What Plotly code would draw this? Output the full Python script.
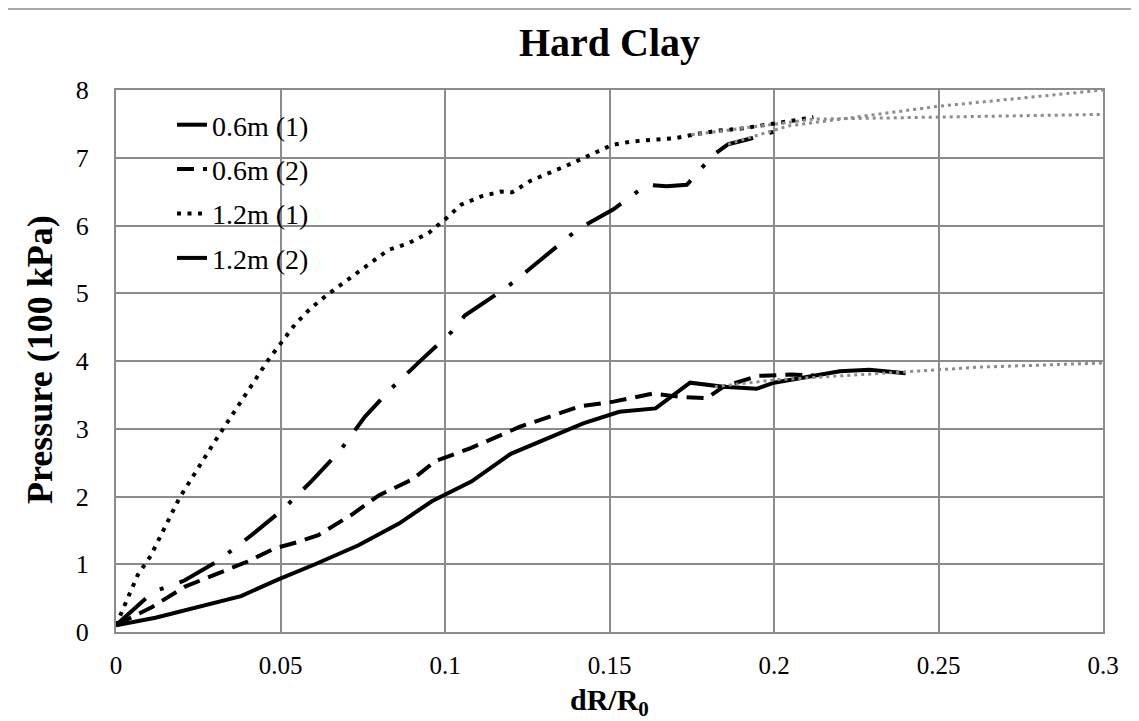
import plotly.graph_objects as go

# ---- tick definitions ----
x_ticks = [0, 0.05, 0.1, 0.15, 0.2, 0.25, 0.3]
x_tick_labels = ["0", "0.05", "0.1", "0.15", "0.2", "0.25", "0.3"]
y_ticks = [0, 1, 2, 3, 4, 5, 6, 7, 8]
y_tick_labels = ["0", "1", "2", "3", "4", "5", "6", "7", "8"]

series_names = ["0.6m (1)", "0.6m (2)", "1.2m (1)", "1.2m (2)"]

# ---- 0.6m (1) : solid ----
s06_1_x = [0, 0.012, 0.038, 0.049, 0.0605, 0.0737, 0.086, 0.096, 0.108, 0.12,
           0.142, 0.153, 0.164, 0.1745, 0.1846, 0.1947, 0.2, 0.21, 0.22, 0.229, 0.24]
s06_1_y = [0.1, 0.21, 0.53, 0.77, 1.0, 1.28, 1.6, 1.93, 2.22, 2.63,
           3.08, 3.25, 3.3, 3.68, 3.62, 3.59, 3.68, 3.77, 3.85, 3.87, 3.82]

# ---- 0.6m (2) : dashed ----
s06_2_x = [0, 0.011, 0.021, 0.03, 0.04, 0.048, 0.0554, 0.0615, 0.0716, 0.08, 0.09,
           0.097, 0.1076, 0.1228, 0.141, 0.1512, 0.1633, 0.1714, 0.1795, 0.1846,
           0.195, 0.205, 0.212]
s06_2_y = [0.1, 0.37, 0.67, 0.84, 1.04, 1.23, 1.33, 1.43, 1.73, 2.02, 2.25,
           2.52, 2.71, 3.03, 3.33, 3.4, 3.52, 3.47, 3.45, 3.62,
           3.78, 3.8, 3.79]

# ---- 1.2m (1) : dotted ----
s12_1_x = [0, 0.0066, 0.0105, 0.0193, 0.03, 0.039, 0.0462, 0.0544, 0.059, 0.064,
           0.0693, 0.0774, 0.0828, 0.089, 0.095, 0.1, 0.105, 0.111, 0.117, 0.1204,
           0.126, 0.1387, 0.1508, 0.1567, 0.163, 0.17, 0.1765, 0.183, 0.19, 0.196,
           0.2027, 0.206, 0.212]
s12_1_y = [0.1, 0.84, 1.12, 1.98, 2.81, 3.48, 4.01, 4.54, 4.77, 4.97,
           5.16, 5.45, 5.64, 5.74, 5.89, 6.09, 6.31, 6.43, 6.5, 6.49,
           6.66, 6.92, 7.19, 7.24, 7.26, 7.29, 7.35, 7.4, 7.43, 7.47,
           7.52, 7.55, 7.6]

# ---- 1.2m (2) : dash-dot ----
s12_2_x = [0, 0.0112, 0.0208, 0.026, 0.031, 0.0412, 0.0505, 0.0595, 0.068, 0.0757,
           0.0838, 0.0929, 0.102, 0.106, 0.111, 0.117, 0.121, 0.1309, 0.1405, 0.1512,
           0.1613, 0.1674, 0.1735, 0.1815, 0.1861, 0.1927, 0.2044]
s12_2_y = [0.1, 0.59, 0.76, 0.9, 1.05, 1.43, 1.8, 2.23, 2.67, 3.18,
           3.6, 4.02, 4.43, 4.67, 4.83, 5.03, 5.17, 5.56, 5.95, 6.24,
           6.6, 6.58, 6.6, 7.04, 7.2, 7.28, 7.45]

# ---- grey dotted extrapolations ----
ext_12_2_x = [0.186, 0.2044, 0.25, 0.3]
ext_12_2_y = [7.2, 7.47, 7.76, 8.0]
ext_12_1_x = [0.175, 0.212, 0.2626, 0.3]
ext_12_1_y = [7.34, 7.57, 7.61, 7.64]
ext_06_x = [0.182, 0.2, 0.24, 0.2626, 0.3]
ext_06_y = [3.62, 3.72, 3.84, 3.91, 3.97]

FONT = "Liberation Serif, Times New Roman, serif"
GRID = "#8c8c8c"

fig = go.Figure()

styles = [
    dict(color="black", width=4, dash="solid"),
    dict(color="black", width=4, dash="17px,9px"),
    dict(color="black", width=4, dash="4px,6.5px"),
    dict(color="black", width=4, dash="40px,17px,4px,17px"),
]
data = [(s06_1_x, s06_1_y), (s06_2_x, s06_2_y), (s12_1_x, s12_1_y), (s12_2_x, s12_2_y)]
for i, ((xs, ys), name, st) in enumerate(zip(data, series_names, styles)):
    fig.add_trace(go.Scatter(x=xs, y=ys, mode="lines", name=name, line=st,
                             legendgroup=f"g{i}", hoverinfo="skip"))

for xs, ys in [(ext_12_2_x, ext_12_2_y), (ext_12_1_x, ext_12_1_y), (ext_06_x, ext_06_y)]:
    fig.add_trace(go.Scatter(x=xs, y=ys, mode="lines", showlegend=False,
                             line=dict(color=GRID, width=3, dash="3px,4px"),
                             cliponaxis=False, hoverinfo="skip"))

# page body has an 8px default margin; compensate so the plot sits where the reference has it
OFF = 8
PL, PR, PT, PB = 116, 1103, 90, 632        # plot-area edges in window pixels
W, H = 1139 - OFF, 721 - OFF
L, T = PL - OFF, PT - OFF
R = (W + OFF) - PR
B = (H + OFF) - PB
pw, ph = PR - PL, PB - PT

def px(xp):
    return (xp - PL) / pw

def py(yp):
    return (PB - yp) / ph

fig.update_layout(
    width=W, height=H,
    margin=dict(l=L, r=R, t=T, b=B, pad=0),
    paper_bgcolor="white", plot_bgcolor="white",
    font=dict(family=FONT, color="black"),
    showlegend=True,
    legend=dict(x=px(172), y=py(100), xanchor="left", yanchor="top",
                bgcolor="rgba(0,0,0,0)", font=dict(size=28, family=FONT, color="black"),
                tracegroupgap=5, itemwidth=30),
    xaxis=dict(range=[0, 0.3], tickvals=x_ticks, ticktext=x_tick_labels,
               showgrid=True, gridcolor=GRID, gridwidth=2,
               showline=True, linecolor=GRID, linewidth=2, mirror=True,
               zeroline=False, ticks="", tickfont=dict(size=25, family=FONT),
               ticklabelstandoff=10, fixedrange=True),
    yaxis=dict(range=[0, 8], tickvals=y_ticks, ticktext=y_tick_labels,
               showgrid=True, gridcolor=GRID, gridwidth=2,
               showline=True, linecolor=GRID, linewidth=2, mirror=True,
               zeroline=False, ticks="", tickfont=dict(size=26, family=FONT),
               ticklabelstandoff=20, fixedrange=True),
    annotations=[
        dict(text="<b>Hard Clay</b>", x=0.5, y=py(43), xref="paper", yref="paper",
             xanchor="center", yanchor="middle", showarrow=False,
             font=dict(size=40, family=FONT, color="black")),
        dict(text="<b>dR/R<sub>0</sub></b>", x=0.5, y=py(702), xref="paper", yref="paper",
             xanchor="center", yanchor="middle", showarrow=False, borderpad=0,
             font=dict(size=30, family=FONT, color="black")),
        dict(text="<b>Pressure (100 kPa)</b>", x=px(40), y=py(360), xref="paper", yref="paper",
             xanchor="center", yanchor="middle", showarrow=False, textangle=-90,
             font=dict(size=36, family=FONT, color="black")),
    ],
    shapes=[
        dict(type="rect", xref="paper", yref="paper",
             x0=px(7), x1=px(1150), y0=py(735), y1=py(9),
             line=dict(color=GRID, width=1.5), fillcolor="rgba(0,0,0,0)", layer="below"),
    ],
)

fig.write_html("out.html")
